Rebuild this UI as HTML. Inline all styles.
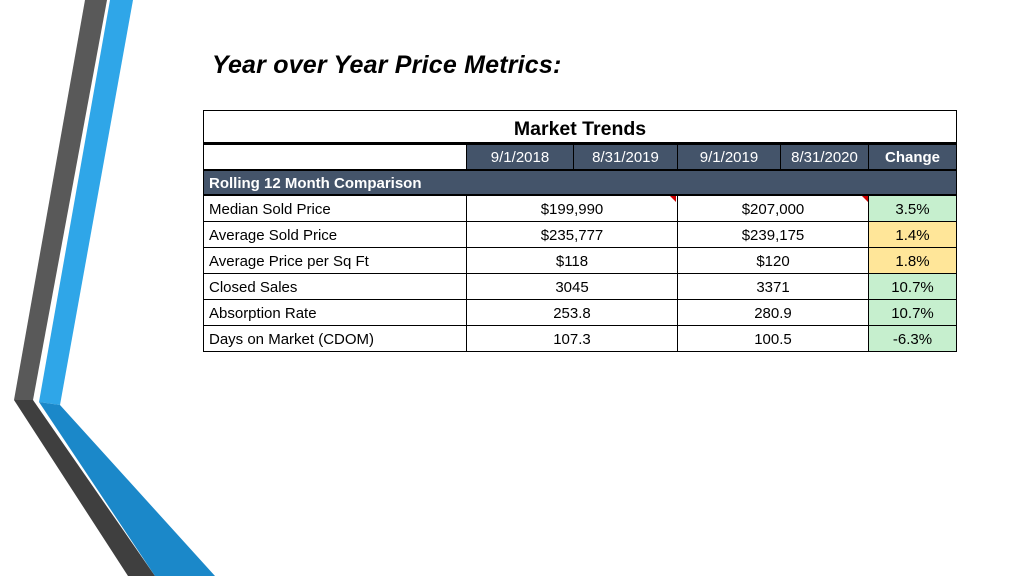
<!DOCTYPE html>
<html><head><meta charset="utf-8"><style>
body{margin:0;width:1024px;height:576px;background:#fff;position:relative;overflow:hidden;font-family:"Liberation Sans",sans-serif}
.c{position:absolute;box-sizing:border-box;font-size:15px;line-height:26px;white-space:nowrap;color:#000}
.h{background:#44546a;color:#fff}
.b{border:1px solid #000}
.g{background:#c6efce}.y{background:#ffe699}
.tc{text-align:center}
</style></head><body>
<svg width="230" height="576" style="position:absolute;left:0;top:0">
<polygon points="85,0 107,0 33,400 14,400" fill="#595959"/>
<polygon points="110,0 133,0 60,405 39,402" fill="#2fa6e8"/>
<polygon points="14,400 33,400 155,576 128,576" fill="#3f3f3f"/>
<polygon points="39,402 60,405 215,576 155,576" fill="#1b88c9"/>
</svg>
<div style="position:absolute;left:212px;top:51px;font-size:25px;font-weight:bold;font-style:italic;letter-spacing:0.2px">Year over Year Price Metrics:</div>
<div style="position:absolute;left:203px;top:110px;width:754px;height:242px;border:1.5px solid #000;box-sizing:border-box"></div>
<div class="c tc" style="left:203px;top:111px;width:754px;height:33px;font-size:19.5px;font-weight:bold;line-height:36px;border-bottom:2px solid #000">Market Trends</div>
<div class="c b" style="left:203px;top:144px;width:264px;height:26px"></div>
<div class="c h tc b" style="left:466px;top:144px;width:108px;height:26px">9/1/2018</div>
<div class="c h tc b" style="left:573px;top:144px;width:105px;height:26px">8/31/2019</div>
<div class="c h tc b" style="left:677px;top:144px;width:104px;height:26px">9/1/2019</div>
<div class="c h tc b" style="left:780px;top:144px;width:89px;height:26px">8/31/2020</div>
<div class="c h tc b" style="left:868px;top:144px;width:89px;height:26px;font-weight:bold">Change</div>
<div class="c h" style="left:203px;top:170px;width:754px;height:25px;padding-left:5px;font-weight:bold;border:1px solid #000">Rolling 12 Month Comparison</div>
<div id="rows"></div>
<script>
const labels=["Median Sold Price","Average Sold Price","Average Price per Sq Ft","Closed Sales","Absorption Rate","Days on Market (CDOM)"];
const period1=["$199,990","$235,777","$118","3045","253.8","107.3"];
const period2=["$207,000","$239,175","$120","3371","280.9","100.5"];
const change=["3.5%","1.4%","1.8%","10.7%","10.7%","-6.3%"];
const changeColor=["g","y","y","g","g","g"];
const root=document.getElementById('rows');
labels.forEach((l,i)=>{
  const top=195+i*26;
  const cells=[[203,264,l,'','label'],[466,212,period1[i],'tc','period1'],[677,192,period2[i],'tc','period2'],[868,89,change[i],'tc '+changeColor[i],'change']];
  cells.forEach(c=>{
    const d=document.createElement('div');
    d.className='c b '+c[3];
    d.style.cssText=`left:${c[0]}px;top:${top}px;width:${c[1]}px;height:27px;line-height:27px;${c[4]==='label'?'padding-left:5px;':''}`;
    d.textContent=c[2];
    
    
    root.appendChild(d);
  });
});
</script>
<div style="position:absolute;left:670px;top:196px;width:0;height:0;border-top:6px solid #c00;border-left:6px solid transparent"></div>
<div style="position:absolute;left:862px;top:196px;width:0;height:0;border-top:6px solid #c00;border-left:6px solid transparent"></div>
</body></html>
